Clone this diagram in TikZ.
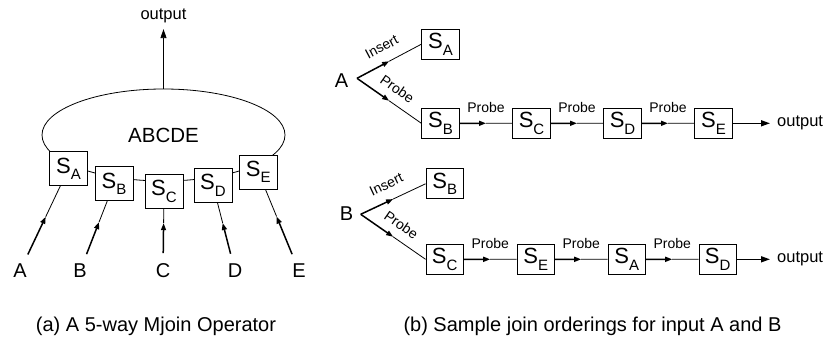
\documentclass[tikz,border=0pt]{standalone}
\usepackage{fontspec}
\setmainfont{Liberation Sans}
\usetikzlibrary{arrows.meta,calc,shapes.geometric}
\newcommand{\fsz}[1]{\fontsize{#1}{#1}\selectfont}
\newcommand{\Sbox}[1]{S\raisebox{-0.3em}{\fsz{15}#1}}
\begin{document}
\begin{tikzpicture}[x=1pt,y=-1pt,
  sbox/.style={draw, line width=0.8pt, fill=white, minimum width=38pt, minimum height=34pt, inner sep=0pt, font=\fsz{22}},
  rbox/.style={sbox, minimum width=37.5pt, minimum height=30pt},
  thickln/.style={line width=1.5pt},
  thinln/.style={line width=0.8pt},
  tip/.style={-{Triangle[length=7pt,width=5pt]}},
  bigtip/.style={-{Triangle[length=9pt,width=6pt]}},
  lbl/.style={font=\fsz{14}, inner sep=0pt},
  letter/.style={font=\fsz{20}, inner sep=0pt},
  outtxt/.style={font=\fsz{16.5}, inner sep=0pt},
  captxt/.style={font=\fsz{20}, inner sep=0pt, anchor=base},
]
\useasboundingbox (0,0) rectangle (827,339);

% ---------- (a) ----------
\node[ellipse, draw, thinln, minimum width=243pt, minimum height=92pt, inner sep=0pt, font=\fsz{20.5}] (op) at (163.5,135) {ABCDE};
\node[sbox] (SA) at (68.5,168.7) {\Sbox{A}};
\node[sbox] (SB) at (114,183.7) {\Sbox{B}};
\node[sbox] (SC) at (164,191.3) {\Sbox{C}};
\node[sbox] (SD) at (213,185.3) {\Sbox{D}};
\node[sbox] (SE) at (258.3,172) {\Sbox{E}};

\node[letter] (iA) at (20,271) {A};
\node[letter] (iB) at (80,271) {B};
\node[letter] (iC) at (163,271) {C};
\node[letter] (iD) at (235,271) {D};
\node[letter] (iE) at (299,271) {E};

\foreach \s/\t/\p in {iA/SA/0.53, iB/SB/0.56, iC/SC/0.6, iD/SD/0.56, iE/SE/0.55}{
  \draw[thickln, tip, shorten <=10.5pt] (\s) -- ($(\s)!\p!(\t)$);
  \draw[thinln] ($(\s)!\p!(\t)$) -- (\t);
}

\node[outtxt, anchor=base] (out1) at (163.5,20) {output};
\coordinate (m0) at ($(op.north)!0.5!(out1.south)$);
\draw[thickln] (op.north) -- (m0);
\draw[thinln, bigtip, shorten >=5.5pt] (m0) -- (out1.south);

\node[captxt] (capA) at (156,331) {(a) A 5-way Mjoin Operator};

% ---------- (b) row 1 ----------
\node[letter] (rA) at (341.5,81) {A};
\coordinate (vA) at (357,78.3);
\node[rbox] (rSA) at (440.5,44.2) {\Sbox{A}};
\node[rbox] (rSB) at (440.5,123.3) {\Sbox{B}};
\node[rbox] (rSC) at (531.5,123.3) {\Sbox{C}};
\node[rbox] (rSD) at (622.5,123.3) {\Sbox{D}};
\node[rbox] (rSE) at (713.5,123.3) {\Sbox{E}};
\node[outtxt, anchor=west] (o2) at (777,123.3) {output};

\draw[thickln, tip] (vA) -- ($(vA)!0.5!(rSA.west)$);
\draw[thinln] ($(vA)!0.5!(rSA.west)$) -- (rSA.west);
\path (vA) -- (rSA.west) node[lbl, midway, sloped, above=11pt] {Insert};
\draw[thickln, tip] (vA) -- ($(vA)!0.5!(rSB.west)$);
\draw[thinln] ($(vA)!0.5!(rSB.west)$) -- (rSB.west);
\path (vA) -- (rSB.west) node[lbl, midway, sloped, above=9pt] {Probe};

\foreach \a/\b in {rSB/rSC, rSC/rSD, rSD/rSE}{
  \draw[thickln, tip] (\a.east) -- ($(\a.east)!0.5!(\b.west)$);
  \draw[thinln] ($(\a.east)!0.5!(\b.west)$) -- (\b.west);
  \path (\a.east) -- (\b.west) node[lbl, midway, above=10pt] {Probe};
}
\draw[thickln, bigtip, shorten >=7pt] (rSE.east) -- (o2.west);

% ---------- (b) row 2 ----------
\node[letter] (rB) at (346.5,214) {B};
\coordinate (vB) at (360.7,214.3);
\node[rbox] (qSB) at (444.7,183.8) {\Sbox{B}};
\node[rbox] (qSC) at (444.7,259.3) {\Sbox{C}};
\node[rbox] (qSE) at (535.7,259.3) {\Sbox{E}};
\node[rbox] (qSA) at (626.7,259.3) {\Sbox{A}};
\node[rbox] (qSD) at (717.7,259.3) {\Sbox{D}};
\node[outtxt, anchor=west] (o3) at (777,259.3) {output};

\draw[thickln, tip] (vB) -- ($(vB)!0.5!(qSB.west)$);
\draw[thinln] ($(vB)!0.5!(qSB.west)$) -- (qSB.west);
\path (vB) -- (qSB.west) node[lbl, midway, sloped, above=11pt] {Insert};
\draw[thickln, tip] (vB) -- ($(vB)!0.5!(qSC.west)$);
\draw[thinln] ($(vB)!0.5!(qSC.west)$) -- (qSC.west);
\path (vB) -- (qSC.west) node[lbl, midway, sloped, above=9pt] {Probe};

\foreach \a/\b in {qSC/qSE, qSE/qSA, qSA/qSD}{
  \draw[thickln, tip] (\a.east) -- ($(\a.east)!0.5!(\b.west)$);
  \draw[thinln] ($(\a.east)!0.5!(\b.west)$) -- (\b.west);
  \path (\a.east) -- (\b.west) node[lbl, midway, above=10pt] {Probe};
}
\draw[thickln, bigtip, shorten >=7pt] (qSD.east) -- (o3.west);

\node[captxt] (capB) at (592.5,331) {(b) Sample join orderings for input A and B};
\end{tikzpicture}
\end{document}
